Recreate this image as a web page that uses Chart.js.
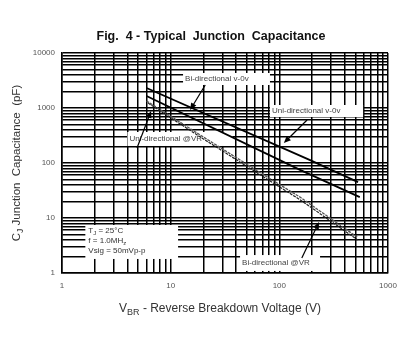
<!DOCTYPE html>
<html>
<head>
<meta charset="utf-8">
<script src="https://cdn.jsdelivr.net/npm/chart.js@4.4.0/dist/chart.umd.min.js"></script>
<style>
html, body { margin: 0; padding: 0; background: #fff; }
#wrap { width: 408px; height: 354px; }
</style>
</head>
<body>
<div id="wrap"><canvas id="capChart"></canvas></div>
<script>
// values (V, pF)
var uniZeroX = [6, 192, 530];
var uniZeroC = [2310, 113, 45];
var biZeroX = [6, 155, 550];
var biZeroC = [1650, 75, 24];
var uniVrX = [6, 18.7, 77, 155, 520];
var uniVrC = [1340, 323, 56, 24, 4.5];
var biVrX = [6.2, 18.7, 77, 155, 525];
var biVrC = [1230, 298, 51, 21.5, 4.0];

var xTickLabels = [1, 10, 100, 1000];
var yTickLabels = [1, 10, 100, 1000, 10000];

function pts(xs, ys) {
    return xs.map(function (x, i) { return { x: x, y: ys[i] }; });
}

function logTicks(min, max) {
    var out = [];
    for (var d = min; d < max; d *= 10) {
        for (var k = 1; k < 10; k++) out.push({ value: k * d });
    }
    out.push({ value: max });
    return out;
}

// labels / arrows placed in data space
var callouts = [
    { box: [13, 4330, 82, 2620], text: 'Bi-directional v-0v', arrow: [20.8, 2620, 15.1, 920] },
    { box: [82, 1134, 590, 686], text: 'Uni-directional v-0v', arrow: [180, 605, 110, 231] },
    { box: [4.0, 366, 37, 204], text: 'Uni-directional @VR', arrow: [4.9, 187, 6.6, 882] },
    { box: [43.5, 2.12, 237, 1.09], text: 'Bi-directional @VR', arrow: [161, 1.87, 232, 8.45] }
];
var condBox = [1.64, 7.46, 11.7, 1.8];

function rich(ctx, parts, x, y, size, align) {
    var w = 0;
    parts.forEach(function (p) {
        ctx.font = (p[1] ? size * 0.75 : size) + 'px "Liberation Sans", Arial, sans-serif';
        w += ctx.measureText(p[0]).width;
    });
    var cx = align === 'center' ? x - w / 2 : x;
    ctx.textAlign = 'left';
    ctx.textBaseline = 'middle';
    parts.forEach(function (p) {
        ctx.font = (p[1] ? size * 0.75 : size) + 'px "Liberation Sans", Arial, sans-serif';
        ctx.fillText(p[0], cx, p[1] ? y + size * 0.3 : y);
        cx += ctx.measureText(p[0]).width;
    });
}

var boxesPlugin = {
    id: 'boxes',
    beforeDatasetsDraw: function (chart) {
        var ctx = chart.ctx, xs = chart.scales.x, ys = chart.scales.y;
        ctx.save();
        callouts.forEach(function (c) {
            var l = xs.getPixelForValue(c.box[0]), t = ys.getPixelForValue(c.box[1]);
            var r = xs.getPixelForValue(c.box[2]), b = ys.getPixelForValue(c.box[3]);
            ctx.fillStyle = '#fff';
            ctx.fillRect(l, t, r - l, b - t);
            ctx.fillStyle = '#444';
            ctx.font = '8px "Liberation Sans", Arial, sans-serif';
            ctx.textBaseline = 'middle';
            ctx.textAlign = 'left';
            ctx.fillText(c.text, l + 2, (t + b) / 2);
        });
        var l = xs.getPixelForValue(condBox[0]), t = ys.getPixelForValue(condBox[1]);
        var r = xs.getPixelForValue(condBox[2]), b = ys.getPixelForValue(condBox[3]);
        ctx.fillStyle = '#fff';
        ctx.fillRect(l, t, r - l, b - t);
        ctx.fillStyle = '#333';
        rich(ctx, [['T', 0], ['J', 1], [' = 25°C', 0]], l + 3, t + 6, 8);
        rich(ctx, [['f = 1.0MH', 0], ['z', 1]], l + 3, t + 16, 8);
        rich(ctx, [['Vsig = 50mVp-p', 0]], l + 3, t + 26, 8);
        ctx.restore();
    },
    afterDatasetsDraw: function (chart) {
        var ctx = chart.ctx, xs = chart.scales.x, ys = chart.scales.y;
        ctx.save();
        ctx.strokeStyle = '#000';
        ctx.fillStyle = '#000';
        ctx.lineWidth = 1.2;
        callouts.forEach(function (c) {
            var x0 = xs.getPixelForValue(c.arrow[0]), y0 = ys.getPixelForValue(c.arrow[1]);
            var x1 = xs.getPixelForValue(c.arrow[2]), y1 = ys.getPixelForValue(c.arrow[3]);
            var a = Math.atan2(y1 - y0, x1 - x0);
            ctx.beginPath();
            ctx.moveTo(x0, y0);
            ctx.lineTo(x1 - 5 * Math.cos(a), y1 - 5 * Math.sin(a));
            ctx.stroke();
            ctx.beginPath();
            ctx.moveTo(x1, y1);
            ctx.lineTo(x1 - 7 * Math.cos(a) + 3 * Math.sin(a), y1 - 7 * Math.sin(a) - 3 * Math.cos(a));
            ctx.lineTo(x1 - 7 * Math.cos(a) - 3 * Math.sin(a), y1 - 7 * Math.sin(a) + 3 * Math.cos(a));
            ctx.closePath();
            ctx.fill();
        });
        ctx.restore();
    },
    afterDraw: function (chart) {
        var ctx = chart.ctx, area = chart.chartArea;
        ctx.save();
        ctx.fillStyle = '#111';
        ctx.font = 'bold 12.5px "Liberation Sans", Arial, sans-serif';
        ctx.textAlign = 'center';
        ctx.textBaseline = 'middle';
        ctx.fillText('Fig.  4 - Typical  Junction  Capacitance', 211, 37);
        ctx.fillStyle = '#333';
        rich(ctx, [['V', 0], ['BR', 1], [' - Reverse Breakdown Voltage (V)', 0]], 220, 309, 12, 'center');
        ctx.translate(17, (area.top + area.bottom) / 2);
        ctx.rotate(-Math.PI / 2);
        rich(ctx, [['C', 0], ['J', 1], [' Junction  Capacitance  (pF)', 0]], 0, 0, 11.5, 'center');
        ctx.restore();
    }
};

var ctx = document.getElementById('capChart').getContext('2d');
var capChart = new Chart(ctx, {
    type: 'line',
    data: {
        datasets: [
            { label: 'Uni-directional v-0v', data: pts(uniZeroX, uniZeroC), borderColor: '#000', borderWidth: 1.8 },
            { label: 'Bi-directional v-0v', data: pts(biZeroX, biZeroC), borderColor: '#000', borderWidth: 1.8 },
            { label: 'Uni-directional @VR', data: pts(uniVrX, uniVrC), borderColor: '#555', borderWidth: 1.3, borderDash: [3, 1] },
            { label: 'Bi-directional @VR', data: pts(biVrX, biVrC), borderColor: '#222', borderWidth: 1.2, borderDash: [3, 1] }
        ]
    },
    options: {
        responsive: true,
        maintainAspectRatio: false,
        animation: false,
        elements: { point: { radius: 0 }, line: { tension: 0 } },
        layout: { padding: { top: 53, right: 20, left: 0, bottom: 0 } },
        scales: {
            x: {
                type: 'logarithmic',
                min: 1,
                max: 1000,
                afterBuildTicks: function (scale) { scale.ticks = logTicks(1, 1000); },
                afterFit: function (scale) { scale.height = 81; },
                grid: { color: '#000', lineWidth: 1.5, drawTicks: false },
                border: { color: '#000', width: 1.5 },
                ticks: {
                    autoSkip: false,
                    maxRotation: 0,
                    padding: 8,
                    color: '#555',
                    font: { size: 8, family: '"Liberation Sans", Arial, sans-serif' },
                    callback: function (v) { return xTickLabels.indexOf(v) >= 0 ? String(v) : ''; }
                }
            },
            y: {
                type: 'logarithmic',
                min: 1,
                max: 10000,
                afterBuildTicks: function (scale) { scale.ticks = logTicks(1, 10000); },
                afterFit: function (scale) { scale.width = 62; },
                grid: { color: '#000', lineWidth: 1.5, drawTicks: false },
                border: { color: '#000', width: 1.5 },
                ticks: {
                    autoSkip: false,
                    padding: 7,
                    color: '#555',
                    font: { size: 8, family: '"Liberation Sans", Arial, sans-serif' },
                    callback: function (v) { return yTickLabels.indexOf(v) >= 0 ? String(v) : ''; }
                }
            }
        },
        plugins: {
            legend: { display: false },
            tooltip: { enabled: false }
        }
    },
    plugins: [boxesPlugin]
});
</script>
</body>
</html>
